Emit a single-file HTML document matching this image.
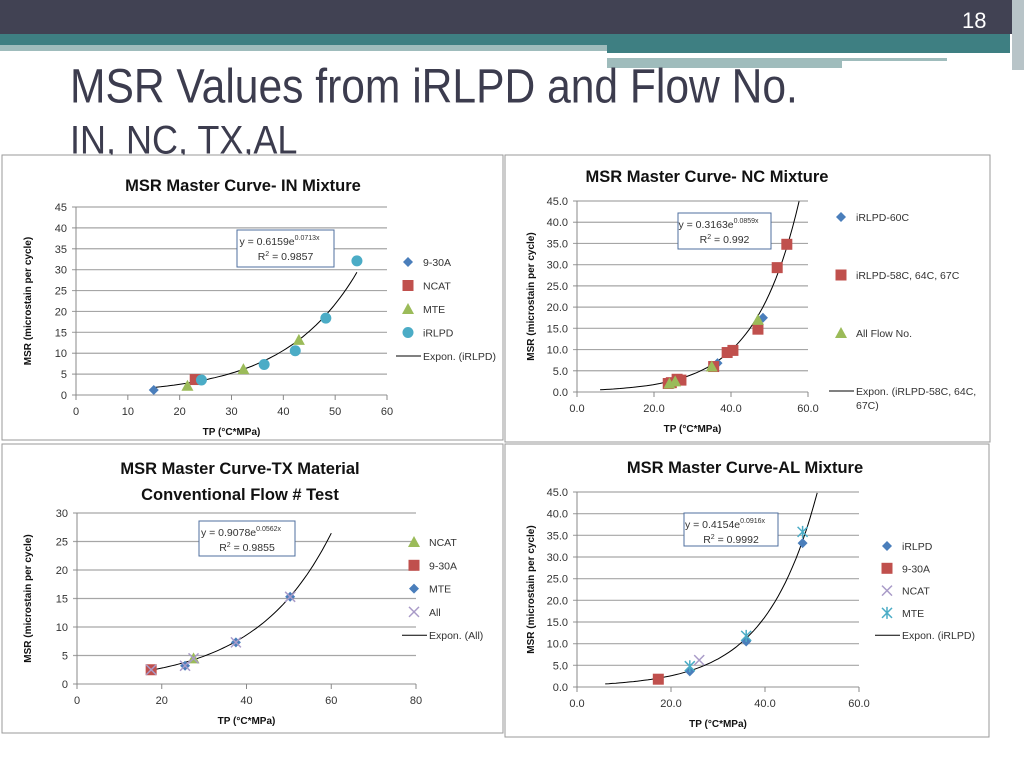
<!DOCTYPE html>
<html><head><meta charset="utf-8">
<style>
body{margin:0;width:1024px;height:768px;overflow:hidden;background:#fff;position:relative;font-family:"Liberation Sans",sans-serif}
.abs{position:absolute}
</style></head><body>
<div class="abs" style="left:0;top:0;width:1024px;height:34px;background:#414253"></div>
<div class="abs" style="left:0;top:34px;width:1010px;height:11px;background:#3e7f82"></div>
<div class="abs" style="left:0;top:45px;width:607px;height:6px;background:#9fbcbc"></div>
<div class="abs" style="left:607px;top:45px;width:403px;height:8px;background:#3e7f82"></div>
<div class="abs" style="left:607px;top:58px;width:340px;height:3px;background:#9fbcbc"></div>
<div class="abs" style="left:607px;top:61px;width:235px;height:7px;background:#9fbcbc"></div>
<div class="abs" style="left:1012px;top:0;width:12px;height:70px;background:#b8c4c8"></div>
<div class="abs" style="left:962px;top:8px;font-size:22px;color:#fff">18</div>
<div class="abs" style="left:70px;top:60px;font-size:43px;color:#3c3c4e;white-space:nowrap;transform:scale(0.99,1.12);transform-origin:left top">MSR Values from iRLPD and Flow No.</div>
<div class="abs" style="left:70px;top:117px;font-size:36px;color:#3c3c4e;white-space:nowrap;transform:scale(1,1.1);transform-origin:left top">IN, NC, TX,AL</div>
<svg class="abs" id="svg" style="left:0;top:0" width="1024" height="768"></svg>
<script>
// IN chart data
const inNineX=[15], inNineY=[1.2];
const inNcatX=[23], inNcatY=[3.7];
const inMteX=[21.5,32.3,43], inMteY=[2.2,6.2,13.2];
const inIrlpdX=[24.2,36.3,42.3,48.2,54.2], inIrlpdY=[3.6,7.3,10.6,18.4,32.1];
const inFit=[0.6159,0.0713,15,54.2];
const inXTicks=[0,10,20,30,40,50,60], inYTicks=[0,5,10,15,20,25,30,35,40,45];
// NC chart data
const ncBlueX=[36.5,48.3], ncBlueY=[6.8,17.5];
const ncRedX=[23.7,24.5,26,27,35.5,39,40.5,47,52,54.5], ncRedY=[2.0,2.2,3.0,2.8,6.0,9.3,9.8,14.8,29.3,34.8];
const ncGreenX=[24,25.5,35,47], ncGreenY=[2.0,2.5,6.0,17.0];
const ncFit=[0.3163,0.0859,6,57.7];
const ncXTicks=[0,20,40,60], ncYTicks=[0,5,10,15,20,25,30,35,40,45];
// TX chart data
const txNcatX=[27.5], txNcatY=[4.5];
const txNineX=[17.5], txNineY=[2.5];
const txMteX=[25.5,37.5,50.3], txMteY=[3.2,7.3,15.3];
const txAllX=[17.5,25.5,27.5,37.5,50.3], txAllY=[2.5,3.2,4.5,7.3,15.3];
const txFit=[0.9078,0.0562,17.5,60];
const txXTicks=[0,20,40,60,80], txYTicks=[0,5,10,15,20,25,30];
// AL chart data
const alIrlpdX=[24,36,48], alIrlpdY=[3.6,10.5,33.2];
const alNineX=[17.3], alNineY=[1.8];
const alNcatX=[26], alNcatY=[6.2];
const alMteX=[24,36,48], alMteY=[4.8,11.8,35.8];
const alFit=[0.4154,0.0916,6,51.1];
const alXTicks=[0,20,40,60], alYTicks=[0,5,10,15,20,25,30,35,40,45];

const NS="http://www.w3.org/2000/svg";
const svg=document.getElementById('svg');
function mk(tag,at,parent,text){const e=document.createElementNS(NS,tag);for(const k in at)e.setAttribute(k,at[k]);if(text!==undefined)e.textContent=text;(parent||svg).appendChild(e);return e;}
const COL={blue:'#4a7ebb',red:'#c0504d',green:'#9bbb59',cyan:'#4bacc6',purple:'#a99bc8',cyan2:'#4bacc6'};
function marker(g,type,x,y){
  let e;
  if(type==='diamond') e=mk('path',{d:`M${x},${y-5}L${x+5},${y}L${x},${y+5}L${x-5},${y}Z`,fill:COL.blue},g);
  else if(type==='square') e=mk('rect',{x:x-5.5,y:y-5.5,width:11,height:11,fill:COL.red},g);
  else if(type==='triangle') e=mk('path',{d:`M${x},${y-6}L${x+6},${y+5}L${x-6},${y+5}Z`,fill:COL.green},g);
  else if(type==='circle') e=mk('circle',{cx:x,cy:y,r:5.5,fill:COL.cyan},g);
  else if(type==='x') e=mk('path',{d:`M${x-5},${y-5}L${x+5},${y+5}M${x+5},${y-5}L${x-5},${y+5}`,stroke:COL.purple,'stroke-width':1.5,fill:'none'},g);
  else if(type==='star') e=mk('path',{d:`M${x-5},${y-5}L${x+5},${y+5}M${x+5},${y-5}L${x-5},${y+5}M${x},${y-6}L${x},${y+6}`,stroke:COL.cyan2,'stroke-width':1.5,fill:'none'},g);
  return e;
}
function chart(c){
  const g=mk('g',{});
  
  
  const p=mk('rect',{x:c.box[0],y:c.box[1],width:c.box[2],height:c.box[3],fill:'#fff',stroke:'#9a9a9a','stroke-width':1},g);
  
  
  const xmax=c.xt[c.xt.length-1], ymax=c.yt[c.yt.length-1];
  const sx=v=>c.px0+(v/xmax)*(c.px1-c.px0);
  const sy=v=>c.py0-(v/ymax)*(c.py0-c.py1);
  c.yt.forEach(t=>{
    const l=mk('line',{x1:c.px0-4,x2:c.px1,y1:sy(t),y2:sy(t),stroke:'#a6a6a6','stroke-width':1.2},g);
    
    
    const tx=mk('text',{x:c.px0-9,y:sy(t)+4,'text-anchor':'end','font-size':11,fill:'#333'},g,c.dec?t.toFixed(1):t);
    
    
  });
  const ax=mk('line',{x1:c.px0,x2:c.px0,y1:c.py1,y2:c.py0,stroke:'#888'},g);
  
  
  c.xt.forEach(t=>{
    mk('line',{x1:sx(t),x2:sx(t),y1:c.py0,y2:c.py0+5,stroke:'#888'},g);
    const tx=mk('text',{x:sx(t),y:c.py0+20,'text-anchor':'middle','font-size':11,fill:'#333'},g,c.dec?t.toFixed(1):t);
    
    
  });
  c.title.forEach((t,i)=>{
    const tt=mk('text',{x:c.tx,y:c.ty+i*26,'text-anchor':'middle','font-size':16.5,'font-weight':'bold',fill:'#111'},g,t);
    
    
  });
  const yt=mk('text',{transform:`translate(${c.box[0]+29},${(c.py0+c.py1)/2}) rotate(-90)`,'text-anchor':'middle','font-size':10,'font-weight':'bold',fill:'#111'},g,'MSR (microstain  per cycle)');
  
  
  const xtl=mk('text',{x:(c.px0+c.px1)/2,y:c.py0+40,'text-anchor':'middle','font-size':10,'font-weight':'bold',fill:'#111'},g,'TP (°C*MPa)');
  
  
  const [a,b,x0,x1]=c.fit;let d='';
  for(let i=0;i<=60;i++){const x=x0+(x1-x0)*i/60;d+=(i?'L':'M')+sx(x).toFixed(1)+','+sy(a*Math.exp(b*x)).toFixed(1);}
  const cv=mk('path',{d,fill:'none',stroke:'#000','stroke-width':1},g);
  
  
  c.series.forEach(s=>{
    s.x.forEach((v,i)=>{
      const m=marker(g,s.type,sx(v),sy(s.y[i]));
      
      
    });
  });
  const eb=mk('rect',{x:c.eq[0],y:c.eq[1],width:c.eq[2],height:c.eq[3],fill:'#fff',stroke:'#4f6f9f'},g);
  
  
  const cx=c.eq[0]+c.eq[2]/2;
  const e1=mk('text',{x:cx-6,y:c.eq[1]+15,'text-anchor':'middle','font-size':10.5,fill:'#333'},g);
  e1.innerHTML=`y = ${a}e<tspan dy="-5" font-size="7">${b}x</tspan>`;
  
  
  const e2=mk('text',{x:cx,y:c.eq[1]+30,'text-anchor':'middle','font-size':10.5,fill:'#333'},g);
  e2.innerHTML=`R<tspan dy="-4" font-size="7">2</tspan><tspan dy="4"> = ${c.r2}</tspan>`;
  
  
  c.series.forEach((s,i)=>{
    const y=c.leg[1]+i*c.leg[2];
    marker(g,s.type,c.leg[0],y);
    const lt=mk('text',{x:c.leg[0]+15,y:y+4,'font-size':10.5,fill:'#333'},g,s.label);
    
    
  });
  const ly=c.leg[1]+c.series.length*c.leg[2];
  mk('line',{x1:c.leg[0]-12,x2:c.leg[0]+13,y1:ly,y2:ly,stroke:'#000'},g);
  c.fitLabel.forEach((t,i)=>{
    const lt=mk('text',{x:c.leg[0]+15,y:ly+4+i*14,'font-size':10.5,fill:'#333'},g,t);
    
    
  });
}
chart({name:'chart-in-mixture',box:[2,155,501,285],px0:76,px1:387,py0:395,py1:207,xt:inXTicks,yt:inYTicks,dec:false,
 title:['MSR Master Curve- IN Mixture'],tx:243,ty:191,fit:inFit,r2:'0.9857',eq:[237,230,97,37],
 leg:[408,262,23.5],fitLabel:['Expon. (iRLPD)'],
 series:[{label:'9-30A',type:'diamond',x:inNineX,y:inNineY},{label:'NCAT',type:'square',x:inNcatX,y:inNcatY},
 {label:'MTE',type:'triangle',x:inMteX,y:inMteY},{label:'iRLPD',type:'circle',x:inIrlpdX,y:inIrlpdY}]});
chart({name:'chart-nc-mixture',box:[505,155,485,287],px0:577,px1:808,py0:392,py1:201,xt:ncXTicks,yt:ncYTicks,dec:true,
 title:['MSR Master Curve- NC Mixture'],tx:707,ty:182,fit:ncFit,r2:'0.992',eq:[678,213,93,36],
 leg:[841,217,58],fitLabel:['Expon. (iRLPD-58C, 64C,','67C)'],
 series:[{label:'iRLPD-60C',type:'diamond',x:ncBlueX,y:ncBlueY},{label:'iRLPD-58C, 64C, 67C',type:'square',x:ncRedX,y:ncRedY},
 {label:'All Flow No.',type:'triangle',x:ncGreenX,y:ncGreenY}]});
chart({name:'chart-tx-material',box:[2,444,501,289],px0:77,px1:416,py0:684,py1:513,xt:txXTicks,yt:txYTicks,dec:false,
 title:['MSR Master Curve-TX Material','Conventional  Flow # Test'],tx:240,ty:474,fit:txFit,r2:'0.9855',eq:[199,521,96,35],
 leg:[414,542,23.3],fitLabel:['Expon. (All)'],
 series:[{label:'NCAT',type:'triangle',x:txNcatX,y:txNcatY},{label:'9-30A',type:'square',x:txNineX,y:txNineY},
 {label:'MTE',type:'diamond',x:txMteX,y:txMteY},{label:'All',type:'x',x:txAllX,y:txAllY}]});
chart({name:'chart-al-mixture',box:[505,444,484,293],px0:577,px1:859,py0:687,py1:492,xt:alXTicks,yt:alYTicks,dec:true,
 title:['MSR Master Curve-AL Mixture'],tx:745,ty:473,fit:alFit,r2:'0.9992',eq:[684,513,94,33],
 leg:[887,546,22.3],fitLabel:['Expon. (iRLPD)'],
 series:[{label:'iRLPD',type:'diamond',x:alIrlpdX,y:alIrlpdY},{label:'9-30A',type:'square',x:alNineX,y:alNineY},
 {label:'NCAT',type:'x',x:alNcatX,y:alNcatY},{label:'MTE',type:'star',x:alMteX,y:alMteY}]});
</script>
</body></html>
